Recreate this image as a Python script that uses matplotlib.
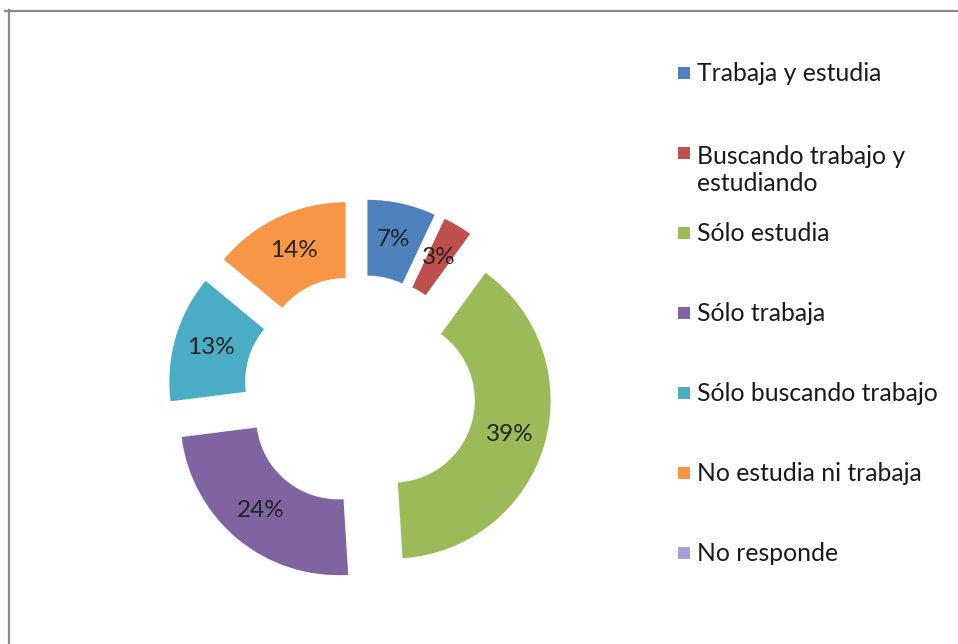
import matplotlib.pyplot as plt
from matplotlib.patches import Rectangle
from matplotlib.lines import Line2D

categories = ["Trabaja y estudia", "Buscando trabajo y\nestudiando", "Sólo estudia",
              "Sólo trabaja", "Sólo buscando trabajo", "No estudia ni trabaja", "No responde"]
values = [7, 3, 39, 24, 13, 14, 0]
colors = ["#4F81BD", "#C0504D", "#9BBB59", "#8064A2", "#4BACC6", "#F79646", "#A5A0DA"]

plt.rcParams['font.family'] = ['Lato', 'DejaVu Sans']
W, H = 958, 644
fig = plt.figure(figsize=(W / 100, H / 100), dpi=100)
fig.patch.set_facecolor("white")
ax = fig.add_axes([0, 0, 1, 1])

cx, cy, R = 360, H - 391, 158
wedges, texts, autotexts = ax.pie(
    values, colors=colors, startangle=90, counterclock=False,
    center=(cx, cy), radius=R, explode=[34] * len(values),
    wedgeprops=dict(width=R * 0.48, linewidth=0),
    autopct=lambda p: f"{p:.0f}%" if p > 0.5 else "",
    pctdistance=0.77, textprops=dict(fontsize=17.5, color="#222222"))
ax.set_xlim(0, W)
ax.set_ylim(0, H)
ax.set_aspect("equal")
ax.axis("off")

# legend (manual, Excel-like)
fs = 17.8
line_px = 1.2 * fs * 100 / 72
for i, (lab, col) in enumerate(zip(categories, colors)):
    yc = 73 + 80 * i
    nlines = lab.count("\n") + 1
    ax.add_patch(Rectangle((678, H - yc - 6), 12, 12, facecolor=col, edgecolor="none"))
    ax.text(697, H - (yc + 8 + (nlines - 1) * line_px), lab, fontsize=fs, color="#1a1a1a",
            ha="left", va="baseline", linespacing=1.2)

# chart border (top and left edges visible)
fig.add_artist(Line2D([5 / W, 1], [1 - 10.5 / H, 1 - 10.5 / H], transform=fig.transFigure,
                      color="#8a8a8a", lw=1.6))
fig.add_artist(Line2D([8.5 / W, 8.5 / W], [0, 1 - 10 / H], transform=fig.transFigure,
                      color="#8a8a8a", lw=1.6))

fig.savefig("out.png", dpi=100, facecolor="white")
